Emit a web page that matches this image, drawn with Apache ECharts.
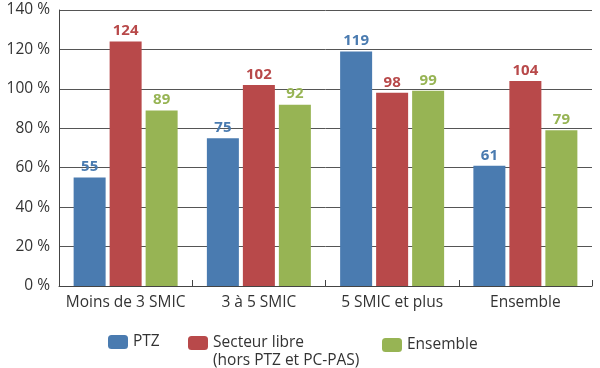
<!DOCTYPE html>
<html><head><meta charset="utf-8">
<script src="https://cdn.jsdelivr.net/npm/echarts@6/dist/echarts.min.js"></script>
<style>html,body{margin:0;padding:0;background:#fff}#c{width:600px;height:368px}</style>
</head><body><div id="c"></div>
<script>
const categories = ['Moins de 3 SMIC', '3 à 5 SMIC', '5 SMIC et plus', 'Ensemble'];
const ptz = [55, 75, 119, 61];
const secteurLibre = [124, 102, 98, 104];
const ensemble = [89, 92, 99, 79];
const yTicks = [0, 20, 40, 60, 80, 100, 120, 140];
const seriesNames = ['PTZ', 'Secteur libre', 'Ensemble'];
const colors = ['#4a7bb0', '#b8494a', '#97b454'];
const font = 'Open Sans';
const fs = 15.5;

const chart = echarts.init(document.getElementById('c'));
function mk(name, data, color) {
  return {
    name, type: 'bar', data, barWidth: 32, barGap: '12.5%',
    itemStyle: { color },
    label: { show: true, position: 'top', distance: 3, color, fontWeight: 'bold', fontSize: 15, fontFamily: font }
  };
}
chart.setOption({
  animation: false,
  textStyle: { fontFamily: font },
  grid: { left: 59, right: 8, top: 10, bottom: 82 },
  xAxis: {
    type: 'category', data: categories,
    axisLine: { lineStyle: { color: '#444', width: 1 } },
    axisTick: { show: true, inside: true, length: 6, lineStyle: { color: '#444' } },
    axisLabel: { color: '#333', fontSize: fs, fontFamily: font, margin: 9, interval: 0 }
  },
  yAxis: {
    type: 'value', min: 0, max: 140, interval: 20,
    axisLine: { show: true, lineStyle: { color: '#444', width: 1 } },
    axisTick: { show: false },
    splitLine: { lineStyle: { color: '#555', width: 1 } },
    axisLabel: { color: '#333', fontSize: fs, fontFamily: font, margin: 9,
      formatter: v => yTicks.includes(v) ? v + ' %' : '' }
  },
  legend: [
    { data: [seriesNames[0]], left: 103, top: 329, itemWidth: 20, itemHeight: 14,
      textStyle: { color: '#333', fontSize: fs, fontFamily: font } },
    { data: [seriesNames[1]], left: 183, top: 311, itemWidth: 20, itemHeight: 14,
      formatter: n => ' \n' + n + '\n(hors PTZ et PC-PAS)',
      textStyle: { color: '#333', fontSize: fs, fontFamily: font, lineHeight: 18 } },
    { data: [seriesNames[2]], left: 377, top: 332, itemWidth: 20, itemHeight: 14,
      textStyle: { color: '#333', fontSize: fs, fontFamily: font } }
  ],
  series: [
    mk(seriesNames[0], ptz, colors[0]),
    mk(seriesNames[1], secteurLibre, colors[1]),
    mk(seriesNames[2], ensemble, colors[2])
  ]
});
</script></body></html>
